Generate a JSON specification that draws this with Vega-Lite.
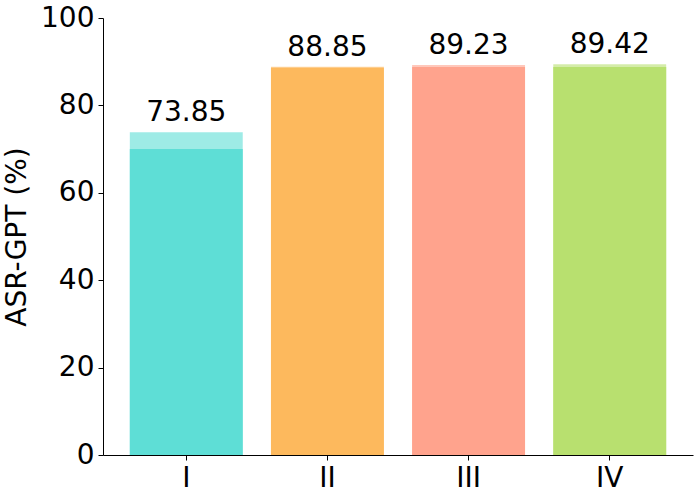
{
  "$schema": "https://vega.github.io/schema/vega-lite/v6.json",
  "width": 590,
  "height": 437,
  "autosize": "none",
  "padding": {"left": 103, "top": 18, "right": 7, "bottom": 45},
  "background": "white",
  "config": {
    "view": {"stroke": null},
    "font": "DejaVu Sans"
  },
  "data": {
    "values": [
      {"setting": "I", "value": 73.85, "base": 70.0, "label": "73.85"},
      {"setting": "II", "value": 88.85, "base": 88.6, "label": "88.85"},
      {"setting": "III", "value": 89.23, "base": 88.8, "label": "89.23"},
      {"setting": "IV", "value": 89.42, "base": 88.8, "label": "89.42"}
    ]
  },
  "encoding": {
    "x": {
      "field": "setting",
      "type": "nominal",
      "sort": ["I", "II", "III", "IV"],
      "scale": {"paddingInner": 0.2, "paddingOuter": 0.19},
      "axis": {
        "title": null,
        "labelAngle": 0,
        "labelFont": "DejaVu Sans",
        "labelFontSize": 28,
        "labelColor": "black",
        "labelPadding": 4,
        "tickSize": 5,
        "tickColor": "black",
        "domainColor": "black",
        "domainWidth": 1
      }
    },
    "color": {
      "field": "setting",
      "type": "nominal",
      "scale": {
        "domain": ["I", "II", "III", "IV"],
        "range": ["#5EDED6", "#FDB95D", "#FFA38D", "#B8E06F"]
      },
      "legend": null
    }
  },
  "layer": [
    {
      "mark": {"type": "bar", "opacity": 0.6},
      "encoding": {
        "y": {
          "field": "value",
          "type": "quantitative",
          "scale": {"domain": [0, 100], "nice": false},
          "axis": {
            "title": "ASR-GPT (%)",
            "titleFont": "DejaVu Sans",
            "titleFontSize": 28,
            "titleFontWeight": "normal",
            "titleColor": "black",
            "titlePadding": 9,
            "values": [0, 20, 40, 60, 80, 100],
            "grid": false,
            "labelFont": "DejaVu Sans",
            "labelFontSize": 28,
            "labelColor": "black",
            "labelPadding": 4,
            "tickSize": 5,
            "tickColor": "black",
            "domainColor": "black",
            "domainWidth": 1
          }
        }
      }
    },
    {
      "mark": {"type": "bar", "opacity": 1},
      "encoding": {
        "y": {"field": "base", "type": "quantitative"}
      }
    },
    {
      "mark": {"type": "text", "baseline": "bottom", "dy": -5, "fontSize": 28, "font": "DejaVu Sans", "color": "black"},
      "encoding": {
        "y": {"field": "value", "type": "quantitative"},
        "text": {"field": "label", "type": "nominal"},
        "color": {"value": "black"}
      }
    }
  ]
}
